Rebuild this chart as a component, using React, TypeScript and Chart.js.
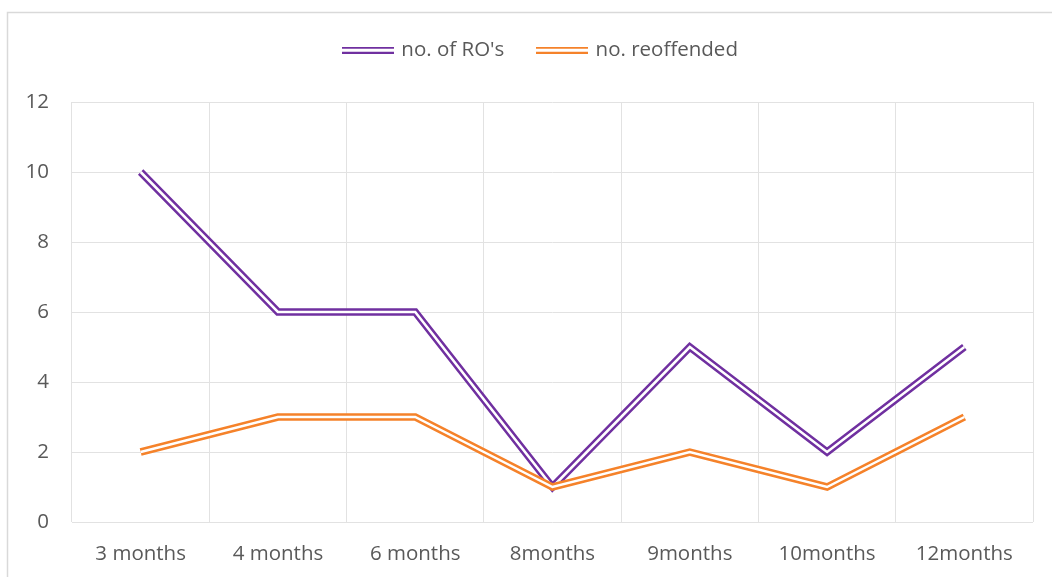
import React, { useEffect, useRef } from "react";
import { Chart, registerables } from "chart.js";

Chart.register(...registerables);

const categories = ["3 months", "4 months", "6 months", "8months", "9months", "10months", "12months"];
const roValues = [10, 6, 6, 1, 5, 2, 5];
const reoffendedValues = [2, 3, 3, 1, 2, 1, 3];
const seriesNames = ["no. of RO's", "no. reoffended"];
const seriesColors = ["#7030A0", "#F5822A"];

const FONT = "'Open Sans', 'Liberation Sans', sans-serif";
const FONT_SIZE = 20.5;
const TEXT = "#595959";
const GRID = "#e2e2e2";

function legendSymbol(color: string) {
  const c = document.createElement("canvas");
  c.width = 52;
  c.height = 7;
  const ctx = c.getContext("2d")!;
  ctx.fillStyle = color;
  ctx.fillRect(0, 0, 52, 2);
  ctx.fillRect(0, 5, 52, 2);
  return c;
}

const borderPlugin = {
  id: "outerBorder",
  afterLayout(chart: any) {
    // let y tick labels extend left of the (narrow) axis box without being clipped
    if (chart.scales.y) chart.scales.y.left = 0;
  },
  beforeDraw(chart: any) {
    const ctx = chart.ctx;
    ctx.save();
    ctx.strokeStyle = "#d9d9d9";
    ctx.lineWidth = 1.5;
    ctx.beginPath();
    ctx.moveTo(7.5, 577);
    ctx.lineTo(7.5, 12.5);
    ctx.lineTo(1052, 12.5);
    ctx.stroke();
    ctx.restore();
  },
};

export default function App() {
  const ref = useRef<HTMLCanvasElement | null>(null);

  useEffect(() => {
    if (!ref.current) return;
    const mk = (i: number, data: number[], white: boolean) => ({
      label: white ? "_inner" + i : seriesNames[i],
      data,
      borderColor: white ? "#ffffff" : seriesColors[i],
      backgroundColor: white ? "#ffffff" : seriesColors[i],
      borderWidth: white ? 2.5 : 7.5,
      borderJoinStyle: "miter" as const,
      borderCapStyle: "butt" as const,
      pointRadius: 0,
      pointHoverRadius: 0,
      pointStyle: white ? "line" : legendSymbol(seriesColors[i]),
      tension: 0,
      fill: false,
      _series: i,
      _white: white,
    });
    const chart = new Chart(ref.current, {
      type: "line",
      data: {
        labels: categories,
        datasets: [
          mk(1, reoffendedValues, true),
          mk(1, reoffendedValues, false),
          mk(0, roValues, true),
          mk(0, roValues, false),
        ] as any,
      },
      options: {
        animation: false,
        responsive: false,
        devicePixelRatio: 1,
        layout: { padding: { left: 50, right: 19, top: 5, bottom: 0 } },
        plugins: {
          tooltip: { enabled: false },
          legend: {
            position: "top",
            labels: {
              usePointStyle: true,
              pointStyleWidth: 46,
              padding: 35,
              color: TEXT,
              font: { family: FONT, size: FONT_SIZE },
              filter: (item: any, data: any) => !data.datasets[item.datasetIndex]._white,
              sort: (a: any, b: any, data: any) =>
                data.datasets[a.datasetIndex]._series - data.datasets[b.datasetIndex]._series,
            },
          },
        },
        scales: {
          x: {
            type: "category",
            offset: true,
            grid: { offset: true, color: GRID, drawTicks: false },
            border: { display: false },
            ticks: {
              color: TEXT,
              font: { family: FONT, size: FONT_SIZE },
              padding: 20,
              maxRotation: 0,
              autoSkip: false,
            },
            afterFit: (s: any) => {
              s.height = 55;
            },
          },
          xTop: {
            type: "category",
            position: "top",
            display: true,
            grid: { display: false, drawTicks: false },
            border: { display: false },
            ticks: { display: false },
            afterFit: (s: any) => {
              s.height = 31.5;
            },
          },
          y: {
            min: 0,
            max: 12,
            grid: { color: GRID, drawTicks: false },
            border: { display: false },
            ticks: {
              stepSize: 2,
              color: TEXT,
              font: { family: FONT, size: FONT_SIZE },
              padding: 23,
            },
            afterFit: (s: any) => {
              s.width = 22;
            },
          },
        },
      } as any,
      plugins: [borderPlugin],
    });
    return () => chart.destroy();
  }, []);

  return (
    <div style={{ position: "fixed", left: 0, top: 0, width: 1052, height: 577, background: "#fff" }}>
      <canvas ref={ref} width={1052} height={577} style={{ display: "block" }} />
    </div>
  );
}
